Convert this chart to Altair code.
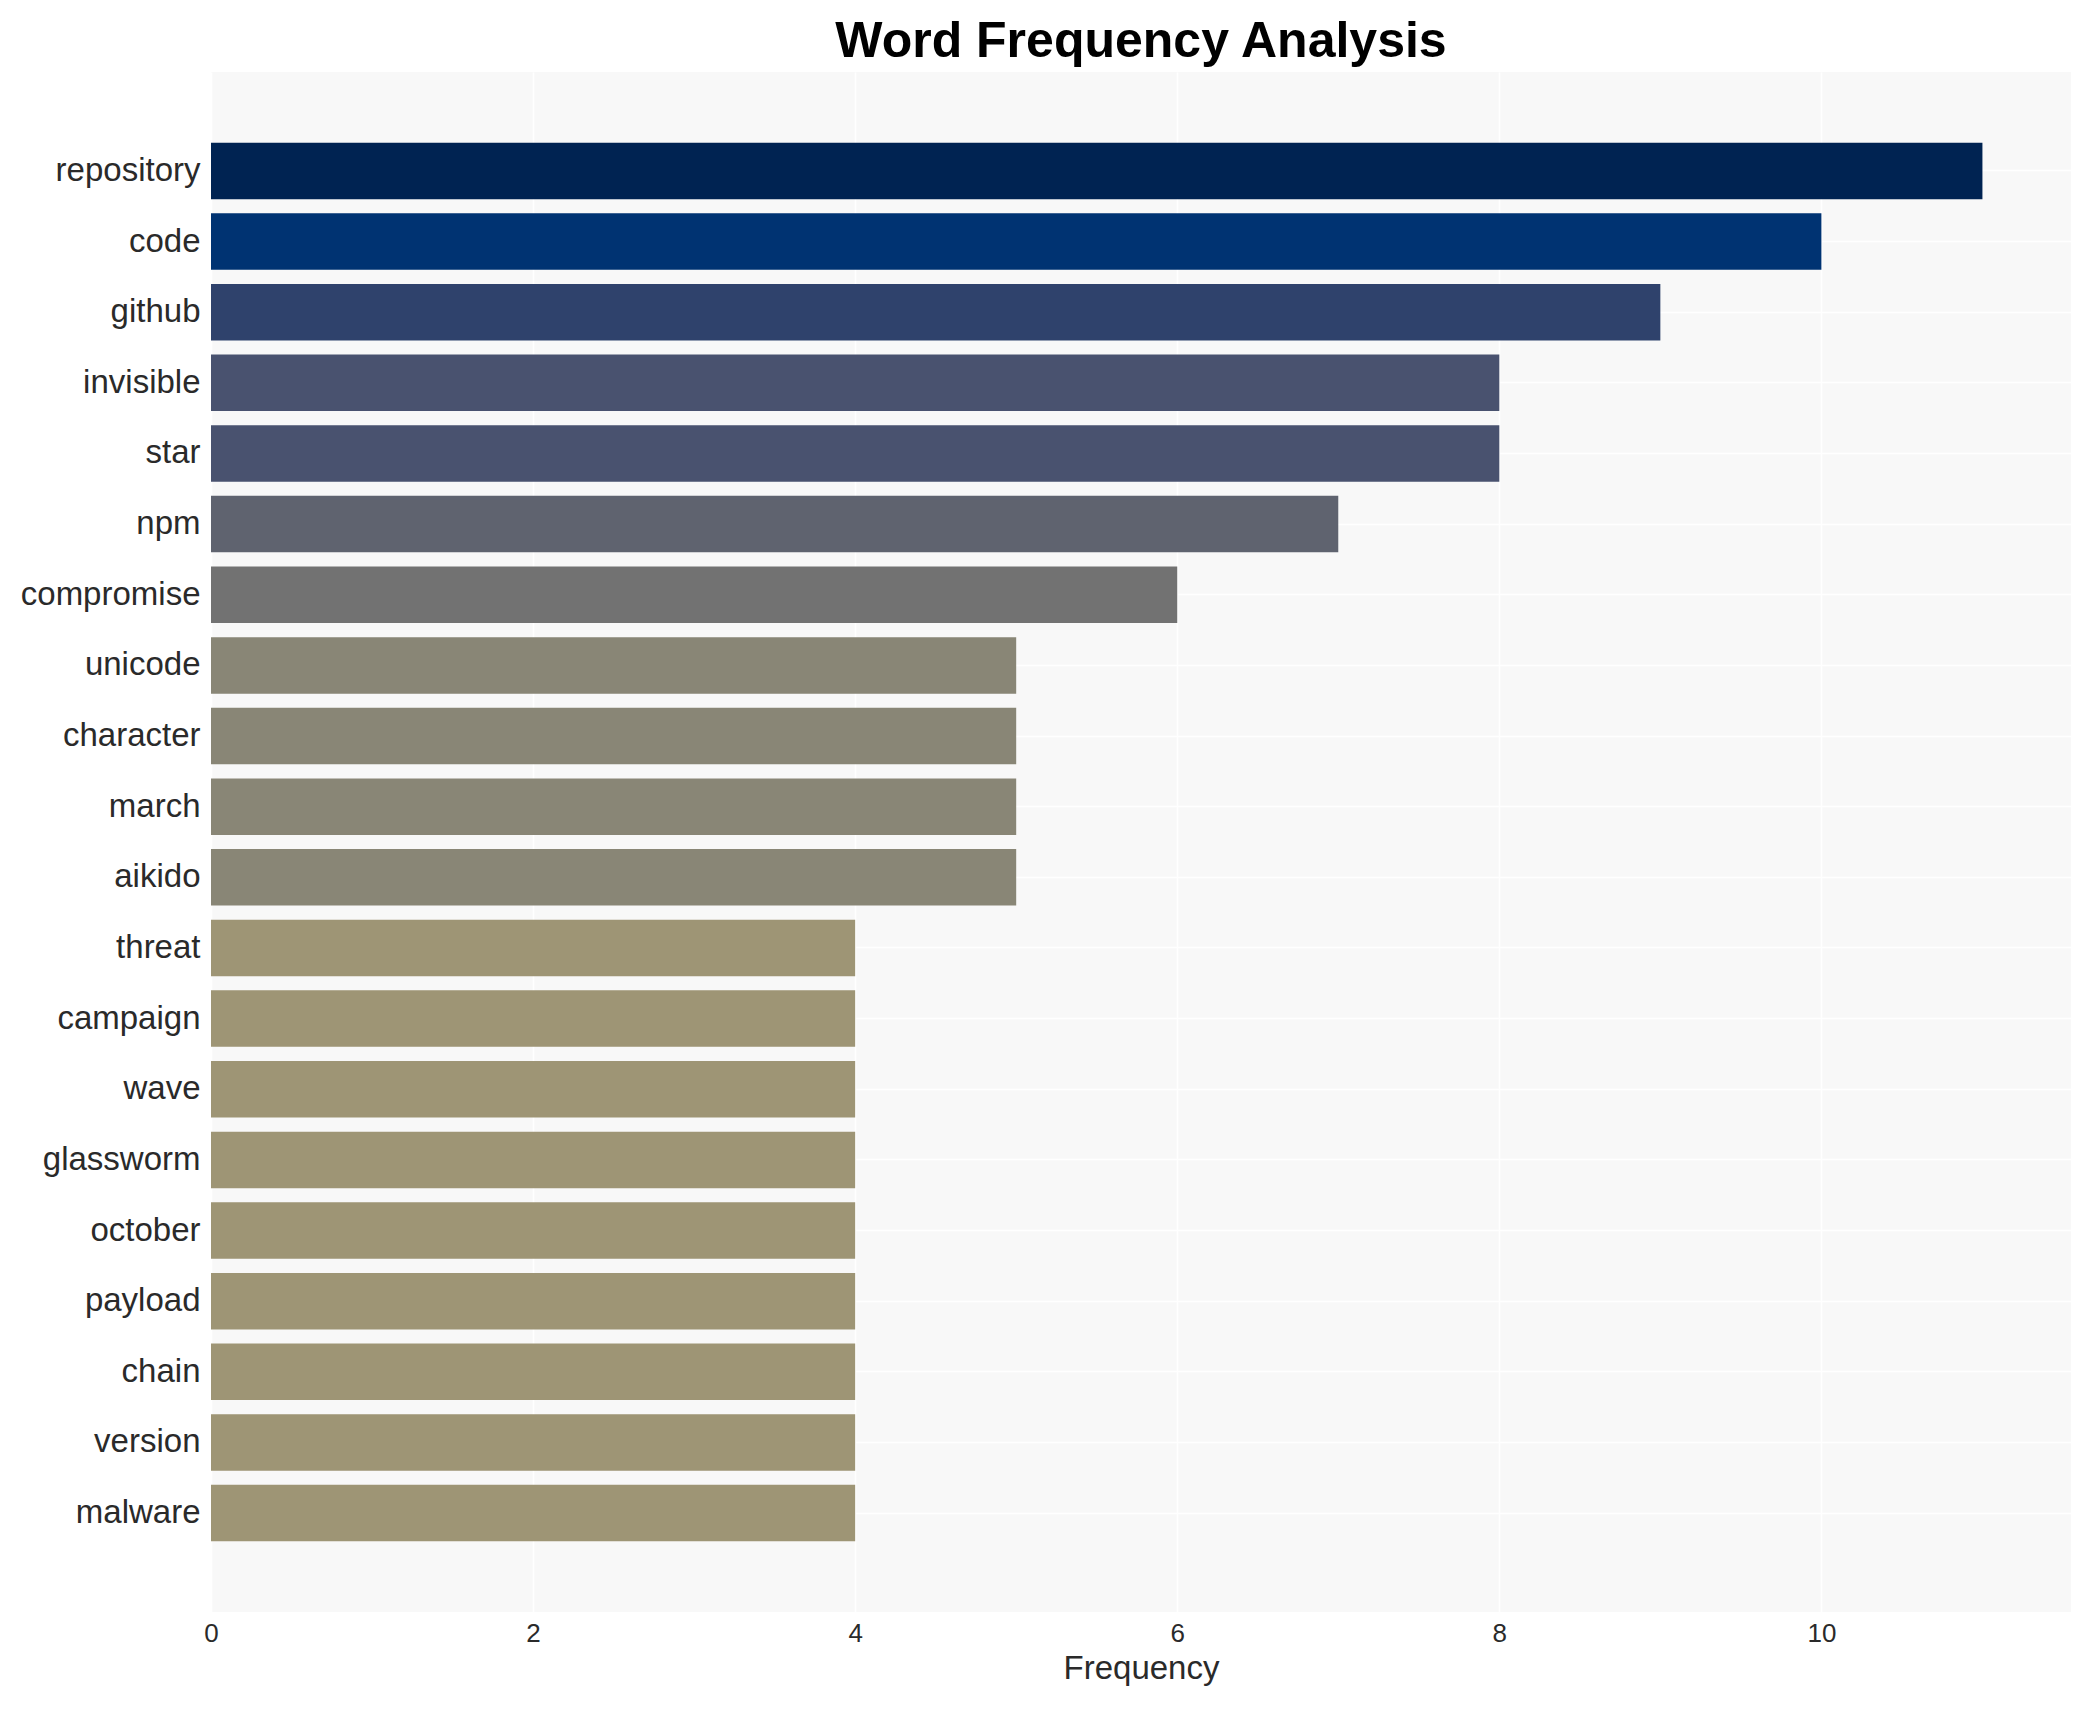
import altair as alt
import pandas as pd

words = ["repository", "code", "github", "invisible", "star", "npm", "compromise",
         "unicode", "character", "march", "aikido", "threat", "campaign", "wave",
         "glassworm", "october", "payload", "chain", "version", "malware"]
freqs = [11, 10, 9, 8, 8, 7, 6, 5, 5, 5, 5, 4, 4, 4, 4, 4, 4, 4, 4, 4]

color_domain = [11, 10, 9, 8, 7, 6, 5, 4]
color_range = ["#002352", "#003372", "#2f426c", "#49526f", "#5f636f",
               "#727272", "#898676", "#9e9575"]

df = pd.DataFrame({"word": words, "freq": freqs})

FONT = "Liberation Sans"

chart = alt.Chart(df).mark_bar().encode(
    x=alt.X("freq:Q", title="Frequency",
            scale=alt.Scale(domain=[0, 11.55], nice=False, zero=True),
            axis=alt.Axis(values=[0, 2, 4, 6, 8, 10], grid=True, gridColor="white",
                          gridWidth=1.5, ticks=False, domain=False, labelFontSize=26,
                          labelFlush=False,
                          labelFont=FONT, labelColor="#2a2a2a", labelPadding=8,
                          titleFont=FONT, titleFontSize=33, titleFontWeight="normal",
                          titleColor="#2a2a2a", titlePadding=6)),
    y=alt.Y("word:N", sort=words, title=None,
            scale=alt.Scale(paddingInner=0.2, paddingOuter=1.0),
            axis=alt.Axis(grid=True, gridColor="white", gridWidth=1.5, ticks=False,
                          domain=False, bandPosition=0.5, labelFontSize=33,
                          labelFont=FONT, labelColor="#2a2a2a", labelPadding=11)),
    color=alt.Color("freq:O", scale=alt.Scale(domain=color_domain, range=color_range),
                    legend=None),
).properties(
    width=1860,
    height=1540,
    title=alt.TitleParams("Word Frequency Analysis", font=FONT, fontSize=50,
                          fontWeight="bold", color="black", anchor="middle",
                          baseline="bottom", offset=6, dy=51),
    autosize=alt.AutoSizeParams(type="none"),
    padding={"left": 203, "top": 64, "right": 12, "bottom": 90},
    background="white",
).configure_view(
    fill="#f8f8f8", stroke=None
)

chart.save("out.html", embed_options={"renderer": "svg", "actions": False})
